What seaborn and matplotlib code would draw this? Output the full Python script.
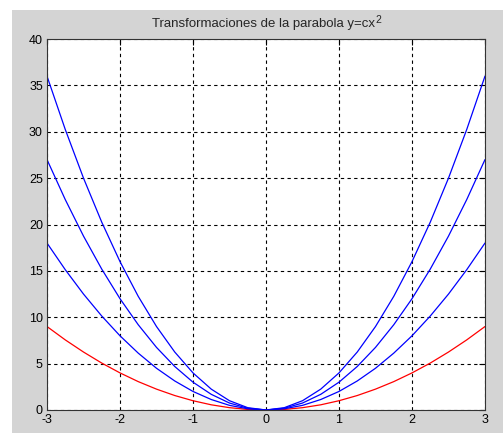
import matplotlib
matplotlib.use("Agg")
import matplotlib.pyplot as plt
import seaborn as sns
import pandas as pd
from matplotlib.patches import Rectangle

x_vals = [-3, -2.75, -2.5, -2.25, -2, -1.75, -1.5, -1.25, -1, -0.75, -0.5, -0.25, 0,
          0.25, 0.5, 0.75, 1, 1.25, 1.5, 1.75, 2, 2.25, 2.5, 2.75, 3]
y_c1 = [9, 7.56, 6.25, 5.06, 4, 3.06, 2.25, 1.56, 1, 0.56, 0.25, 0.06, 0,
        0.06, 0.25, 0.56, 1, 1.56, 2.25, 3.06, 4, 5.06, 6.25, 7.56, 9]
y_c2 = [18, 15.13, 12.5, 10.13, 8, 6.13, 4.5, 3.13, 2, 1.13, 0.5, 0.13, 0,
        0.13, 0.5, 1.13, 2, 3.13, 4.5, 6.13, 8, 10.13, 12.5, 15.13, 18]
y_c3 = [27, 22.69, 18.75, 15.19, 12, 9.19, 6.75, 4.69, 3, 1.69, 0.75, 0.19, 0,
        0.19, 0.75, 1.69, 3, 4.69, 6.75, 9.19, 12, 15.19, 18.75, 22.69, 27]
y_c4 = [36, 30.25, 25, 20.25, 16, 12.25, 9, 6.25, 4, 2.25, 1, 0.25, 0,
        0.25, 1, 2.25, 4, 6.25, 9, 12.25, 16, 20.25, 25, 30.25, 36]
series_colors = ["red", "blue", "blue", "blue"]
x_ticks = [-3, -2, -1, 0, 1, 2, 3]
y_ticks = [0, 5, 10, 15, 20, 25, 30, 35, 40]
title_main = "Transformaciones de la parabola y=cx"
title_sup = "2"

sns.set_style("white")
plt.rcParams['font.family'] = ['Liberation Sans', 'DejaVu Sans']

fig = plt.figure(figsize=(5.03, 4.33), dpi=100)
fig.patch.set_facecolor("white")
bg = Rectangle((12/503, 0), 1 - 12/503, 1 - 10/433, transform=fig.transFigure,
               facecolor="#d4d4d4", edgecolor="none", zorder=-10)
fig.add_artist(bg)
ax = fig.add_axes([47/503, (433-410)/433, (485-47)/503, (410-39)/433])
ax.set_zorder(1)
ax.set_facecolor("white")

for ys, col in zip([y_c1, y_c2, y_c3, y_c4], series_colors):
    df = pd.DataFrame({"x": x_vals, "y": ys})
    sns.lineplot(data=df, x="x", y="y", color=col, linewidth=0.9, ax=ax, sort=False)

ax.set_xlim(-3, 3)
ax.set_ylim(0, 40)
ax.set_xticks(x_ticks)
ax.set_yticks(y_ticks)
ax.set_xticklabels([str(t) for t in x_ticks])
ax.set_yticklabels([str(t) for t in y_ticks])
ax.set_xlabel("")
ax.set_ylabel("")
ax.grid(True, color="black", linestyle=(0, (3, 3)), linewidth=0.8)
ax.tick_params(direction="in", length=4, width=0.8, top=True, right=True,
               labelsize=9, colors="black", pad=3)
for s in ax.spines.values():
    s.set_color("#333333")
    s.set_linewidth(0.8)

t = fig.text(264/503, 1 - 27/433, title_main, fontsize=9.5, ha="center", va="baseline")
ax.annotate(title_sup, xy=(1, 0), xycoords=t, xytext=(0, 5), textcoords="offset points",
            fontsize=7.5, ha="left", va="baseline")

fig.savefig("out.png", dpi=100, facecolor=fig.get_facecolor())
